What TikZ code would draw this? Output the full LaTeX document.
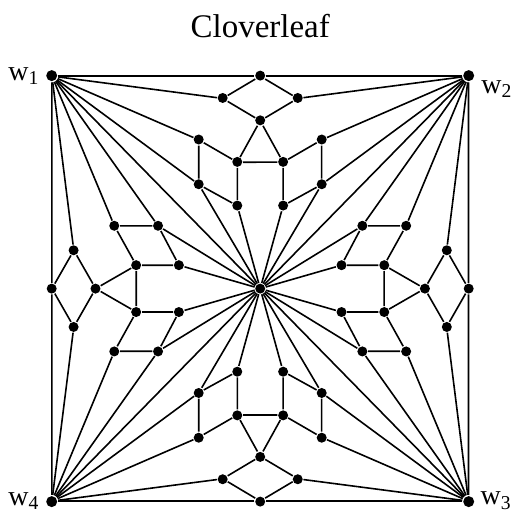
\documentclass[tikz,border=0pt]{standalone}
\usepackage{fontspec}
\setmainfont{Liberation Serif}

\begin{document}
\begin{tikzpicture}[
  x=1pt,y=1pt,xscale=208.5,yscale=213,
  line width=1.6pt,
  dot/.style={circle,fill=black,inner sep=0pt,minimum size=10pt},
  corner/.style={dot,minimum size=11pt},
  wlab/.style={font=\fontsize{28}{30}\selectfont,inner sep=2pt},
  ttl/.style={font=\fontsize{33}{36}\selectfont}]
\useasboundingbox (-1.248,-1.082) rectangle (1.246,1.355);
% title
\node[ttl,anchor=base] (title) at (0,1.181) {Cloverleaf};
% centre and corners
\node[dot] (c) at (0,0) {};
\node[corner,label={[wlab,label distance=4pt]left:w\textsubscript{1}}]  (w1) at (-1,1)  {};
\node[corner,label={[wlab,label distance=4pt]-8:w\textsubscript{2}}]   (w2) at (1,1)   {};
\node[corner,label={[wlab,label distance=3pt]2:w\textsubscript{3}}]    (w3) at (1,-1)  {};
\node[corner,label={[wlab,label distance=4pt]left:w\textsubscript{4}}] (w4) at (-1,-1) {};
% four leaves, each a turned copy of the top one
\foreach \s/\a/\wa/\wb in {t/0/w1/w2, l/90/w4/w1, b/180/w3/w4, r/270/w2/w3}{
  \begin{scope}[rotate=\a]
    \node[dot] (\s-out) at (0,1)          {};
    \node[dot] (\s-dl)  at (-0.18,0.895)  {};
    \node[dot] (\s-dr)  at (0.18,0.895)   {};
    \node[dot] (\s-in)  at (0,0.79)       {};
    \node[dot] (\s-pl)  at (-0.11,0.595)  {};
    \node[dot] (\s-pr)  at (0.11,0.595)   {};
    \node[dot] (\s-ul)  at (-0.295,0.70)  {};
    \node[dot] (\s-ur)  at (0.295,0.70)   {};
    \node[dot] (\s-ml)  at (-0.295,0.49)  {};
    \node[dot] (\s-mr)  at (0.295,0.49)   {};
    \node[dot] (\s-ll)  at (-0.11,0.39)   {};
    \node[dot] (\s-lr)  at (0.11,0.39)    {};
  \end{scope}
  % outer side and diamond
  \draw (\wa) -- (\s-out) -- (\wb);
  \draw (\s-out) -- (\s-dl) -- (\s-in) -- (\s-dr) -- (\s-out);
  \draw (\wa) -- (\s-dl); \draw (\wb) -- (\s-dr);
  % triangle and the two quads
  \draw (\s-in) -- (\s-pl) -- (\s-pr) -- (\s-in);
  \draw (\s-pl) -- (\s-ul) -- (\s-ml) -- (\s-ll) -- (\s-pl);
  \draw (\s-pr) -- (\s-ur) -- (\s-mr) -- (\s-lr) -- (\s-pr);
  % spokes to the corners
  \draw (\wa) -- (\s-ul); \draw (\wa) -- (\s-ml);
  \draw (\wb) -- (\s-ur); \draw (\wb) -- (\s-mr);
  % spokes to the centre
  \draw (c) -- (\s-ml); \draw (c) -- (\s-ll);
  \draw (c) -- (\s-lr); \draw (c) -- (\s-mr);
  \draw (c) -- (\wa);
}
\end{tikzpicture}
\end{document}
